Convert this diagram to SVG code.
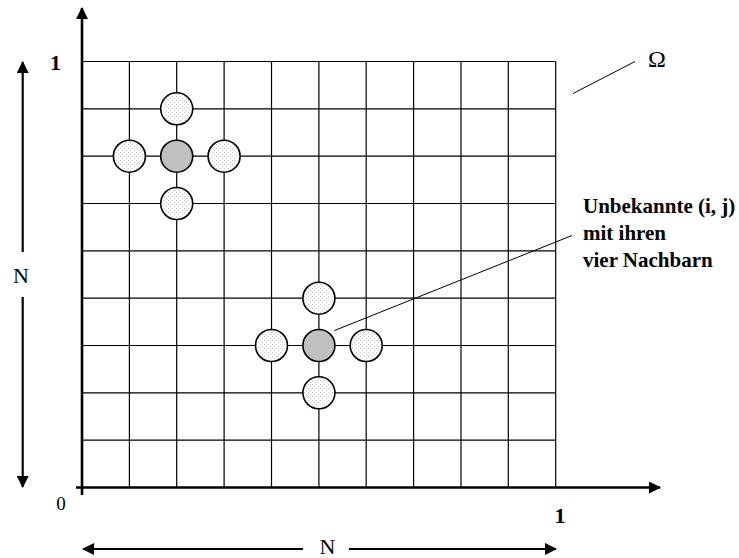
<svg xmlns="http://www.w3.org/2000/svg" width="739" height="558" viewBox="0 0 739 558">
<style>
.grid line{stroke:#000;stroke-width:1.2}
.axis{stroke:#000;stroke-width:2.6;fill:none}
.arr{stroke:#000;stroke-width:2.2;fill:none}
.lead{stroke:#000;stroke-width:1;fill:none}
.nb{fill:url(#dots);stroke:#000;stroke-width:1.6}
.ctr{fill:#c0c0c0;stroke:#000;stroke-width:1.6}
.lbl{font-family:"Liberation Serif","Times New Roman",serif;font-size:22px;fill:#000}
.note{font-family:"Liberation Serif","Times New Roman",serif;font-size:21px;font-weight:bold;fill:#000}
</style>
<defs>
<pattern id="dots" width="4" height="4" patternUnits="userSpaceOnUse">
<rect width="4" height="4" fill="#fff"/>
<rect x="0" y="0" width="1" height="1" fill="#c8c8c8"/>
<rect x="2" y="2" width="1" height="1" fill="#c8c8c8"/>
</pattern>
<marker id="ah" viewBox="0 0 12 12" refX="11" refY="6" markerWidth="12" markerHeight="12" markerUnits="userSpaceOnUse" orient="auto">
<path d="M0,0 L12,6 L0,12 Z" fill="#000"/>
</marker>
</defs>
<rect width="739" height="558" fill="#fff"/>
<g class="grid">
<line x1="82" y1="61.5" x2="555.7" y2="61.5"/>
<line x1="82" y1="108.8" x2="555.7" y2="108.8"/>
<line x1="82" y1="156.2" x2="555.7" y2="156.2"/>
<line x1="82" y1="203.5" x2="555.7" y2="203.5"/>
<line x1="82" y1="250.8" x2="555.7" y2="250.8"/>
<line x1="82" y1="298.2" x2="555.7" y2="298.2"/>
<line x1="82" y1="345.5" x2="555.7" y2="345.5"/>
<line x1="82" y1="392.8" x2="555.7" y2="392.8"/>
<line x1="82" y1="440.2" x2="555.7" y2="440.2"/>
<line x1="129.4" y1="61.5" x2="129.4" y2="487.5"/>
<line x1="176.7" y1="61.5" x2="176.7" y2="487.5"/>
<line x1="224.1" y1="61.5" x2="224.1" y2="487.5"/>
<line x1="271.5" y1="61.5" x2="271.5" y2="487.5"/>
<line x1="318.9" y1="61.5" x2="318.9" y2="487.5"/>
<line x1="366.2" y1="61.5" x2="366.2" y2="487.5"/>
<line x1="413.6" y1="61.5" x2="413.6" y2="487.5"/>
<line x1="461" y1="61.5" x2="461" y2="487.5"/>
<line x1="508.3" y1="61.5" x2="508.3" y2="487.5"/>
<line x1="555.7" y1="61.5" x2="555.7" y2="487.5"/>
</g>
<g id="connectors">
<line class="axis" x1="82" y1="495" x2="82" y2="8" marker-end="url(#ah)"/>
<line class="axis" x1="76" y1="487.5" x2="660" y2="487.5" marker-end="url(#ah)"/>
<line class="arr" x1="22.7" y1="252" x2="22.7" y2="62" marker-end="url(#ah)"/>
<line class="arr" x1="22.7" y1="297" x2="22.7" y2="487" marker-end="url(#ah)"/>
<line class="arr" x1="303" y1="549" x2="83" y2="549" marker-end="url(#ah)"/>
<line class="arr" x1="349" y1="549" x2="556" y2="549" marker-end="url(#ah)"/>
<line class="lead" x1="573" y1="93.5" x2="635" y2="61.5"/>
<line class="lead" x1="334.5" y1="330.5" x2="572" y2="235.5"/>
</g>
<g id="cluster1">
<circle class="nb" cx="176.7" cy="108.8" r="16"/>
<circle class="nb" cx="129.4" cy="156.2" r="16"/>
<circle class="nb" cx="224.1" cy="156.2" r="16"/>
<circle class="nb" cx="176.7" cy="203.5" r="16"/>
<circle class="ctr" cx="176.7" cy="156.2" r="16"/>
</g>
<g id="cluster2">
<circle class="nb" cx="318.9" cy="298.2" r="16"/>
<circle class="nb" cx="271.5" cy="345.5" r="16"/>
<circle class="nb" cx="366.2" cy="345.5" r="16"/>
<circle class="nb" cx="318.9" cy="392.8" r="16"/>
<circle class="ctr" cx="318.9" cy="345.5" r="16"/>
</g>
<g id="labels">
<text class="lbl" x="55.5" y="70" text-anchor="middle" style="font-weight:bold">1</text>
<text class="lbl" x="61" y="510" text-anchor="middle" style="font-size:19px">0</text>
<text class="lbl" x="560" y="523" text-anchor="middle" style="font-weight:bold">1</text>
<text class="lbl" x="21" y="283" text-anchor="middle">N</text>
<text class="lbl" x="327.5" y="554" text-anchor="middle">N</text>
<text class="lbl" x="657" y="67" text-anchor="middle" style="font-size:24px">Ω</text>
<text class="note" x="583" y="213">Unbekannte (i, j)</text>
<text class="note" x="583" y="240">mit ihren</text>
<text class="note" x="583" y="267">vier Nachbarn</text>
</g>
</svg>
